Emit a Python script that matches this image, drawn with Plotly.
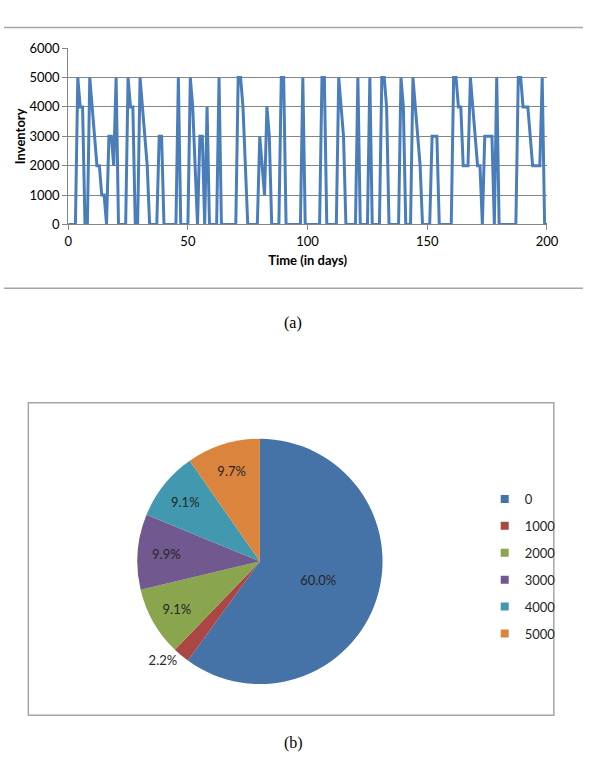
import plotly.graph_objects as go

# ---- data: inventory over time (line chart) ----
days = list(range(0, 201))
inventory = [
    0, 0, 0, 0, 5000, 4000, 4000, 0, 0, 5000,            # 0-9
    4000, 3000, 2000, 2000, 1000, 1000, 0, 3000, 3000, 2000,  # 10-19
    5000, 0, 0, 0, 0, 5000, 4000, 4000, 0, 0,            # 20-29
    5000, 4000, 3000, 2000, 0, 0, 0, 0, 3000, 3000,      # 30-39
    0, 0, 0, 0, 0, 0, 5000, 0, 0, 0,                     # 40-49
    0, 5000, 4000, 2000, 0, 3000, 3000, 0, 4000, 0,      # 50-59
    0, 0, 0, 5000, 0, 0, 0, 0, 0, 0,                     # 60-69
    0, 5000, 5000, 4000, 2000, 0, 0, 0, 0, 0,            # 70-79
    3000, 2000, 1000, 4000, 3000, 0, 0, 0, 0, 5000,      # 80-89
    5000, 0, 0, 0, 0, 0, 0, 0, 5000, 0,                  # 90-99
    0, 0, 0, 0, 0, 0, 5000, 5000, 0, 0,                  # 100-109
    0, 0, 0, 5000, 4000, 3000, 0, 0, 0, 0,               # 110-119
    0, 5000, 0, 0, 0, 0, 5000, 0, 0, 0,                  # 120-129
    0, 5000, 5000, 4000, 0, 0, 0, 0, 0, 5000,            # 130-139
    4000, 0, 0, 0, 5000, 4000, 3000, 2000, 0, 0,         # 140-149
    0, 0, 3000, 3000, 3000, 0, 0, 0, 0, 0,               # 150-159
    0, 5000, 5000, 4000, 4000, 2000, 2000, 2000, 5000, 4000,  # 160-169
    3000, 2000, 2000, 0, 3000, 3000, 3000, 3000, 0, 5000,     # 170-179
    0, 0, 0, 0, 0, 0, 0, 0, 5000, 5000,                  # 180-189
    4000, 4000, 4000, 3000, 2000, 2000, 2000, 2000, 5000, 0,  # 190-199
    0,                                                   # 200
]
x_ticks = [0, 50, 100, 150, 200]
y_ticks = [0, 1000, 2000, 3000, 4000, 5000, 6000]

# ---- data: share of time at each inventory level (pie chart) ----
pie_labels = ["0", "1000", "2000", "3000", "4000", "5000"]
pie_values = [60.0, 2.2, 9.1, 9.9, 9.1, 9.7]
pie_colors = ["#4572A7", "#AA4643", "#89A54E", "#71588F", "#4198AF", "#DB843D"]
pie_textpos = ["inside", "outside", "inside", "inside", "inside", "inside"]

W, H = 595, 779
def px(v):
    return v / W
def py(v):
    return 1 - v / H

FONT = "Lato, 'Open Sans', sans-serif"
TXT = "#262626"
FS = 13

fig = go.Figure()
fig.add_trace(go.Scatter(
    x=days, y=inventory, mode="lines",
    line=dict(color="#4A7EBB", width=3),
    showlegend=False, hoverinfo="skip",
    xaxis="x", yaxis="y",
))

fig.add_trace(go.Pie(
    labels=pie_labels, values=pie_values,
    marker=dict(colors=pie_colors, line=dict(width=0)),
    sort=False, direction="clockwise", rotation=0,
    texttemplate="%{value:.1f}%",
    textposition=pie_textpos,
    textfont=dict(family=FONT, size=FS, color=TXT),
    insidetextorientation="horizontal",
    domain=dict(x=[px(137), px(389)], y=[py(691), py(439)]),
    showlegend=False,
))

# legend entries (one group each so spacing can match)
for lab, col in zip(pie_labels, pie_colors):
    fig.add_trace(go.Scatter(
        x=[None], y=[None], mode="markers",
        marker=dict(symbol="square", size=8, color=col),
        name=lab, legendgroup=lab, showlegend=True,
        xaxis="x", yaxis="y",
    ))

fig.update_layout(
    width=W, height=H,
    margin=dict(l=0, r=0, t=0, b=0),
    paper_bgcolor="white", plot_bgcolor="white",
    font=dict(family=FONT, size=FS, color=TXT),
    xaxis=dict(
        domain=[px(66), px(558)], range=[0, 200],
        tickvals=x_ticks, ticks="outside", ticklen=5, tickcolor="#868686",
        showline=True, linecolor="#868686", linewidth=1,
        showgrid=False, zeroline=False,
        tickfont=dict(family=FONT, size=FS, color="#000"),
        title=dict(text="<b>Time (in days)</b>", standoff=7,
                   font=dict(family=FONT, size=FS, color="#000")),
        fixedrange=True,
    ),
    yaxis=dict(
        domain=[py(221), py(41)], range=[0, 6000],
        tickvals=y_ticks, ticks="outside", ticklen=5, tickcolor="#868686",
        showline=True, linecolor="#868686", linewidth=1,
        showgrid=True, gridcolor="#868686", gridwidth=1,
        zeroline=False,
        tickfont=dict(family=FONT, size=FS, color="#000"),
        title=dict(text="<b>Inventory</b>", standoff=0,
                   font=dict(family=FONT, size=FS, color="#000")),
        fixedrange=True,
    ),
    legend=dict(
        x=px(494), y=py(486), xanchor="left", yanchor="top",
        font=dict(family=FONT, size=FS, color=TXT),
        tracegroupgap=7, itemwidth=30,
        bgcolor="rgba(0,0,0,0)",
    ),
    shapes=[
        dict(type="line", xref="paper", yref="paper", x0=0, x1=1,
             y0=py(20), y1=py(20), line=dict(color="#A6A6A6", width=1.5)),
        dict(type="line", xref="paper", yref="paper", x0=0, x1=1,
             y0=py(286), y1=py(286), line=dict(color="#A6A6A6", width=1.5)),
        dict(type="rect", xref="paper", yref="paper",
             x0=px(25), x1=px(565), y0=py(722), y1=py(403),
             line=dict(color="#A6A6A6", width=1.5)),
    ],
    annotations=[
        dict(text="(a)", xref="paper", yref="paper", x=px(297), y=py(322),
             showarrow=False, font=dict(family="Liberation Serif", size=16, color="#000")),
        dict(text="(b)", xref="paper", yref="paper", x=px(297), y=py(762),
             showarrow=False, font=dict(family="Liberation Serif", size=16, color="#000")),
    ],
)

fig.write_html("out.html")
